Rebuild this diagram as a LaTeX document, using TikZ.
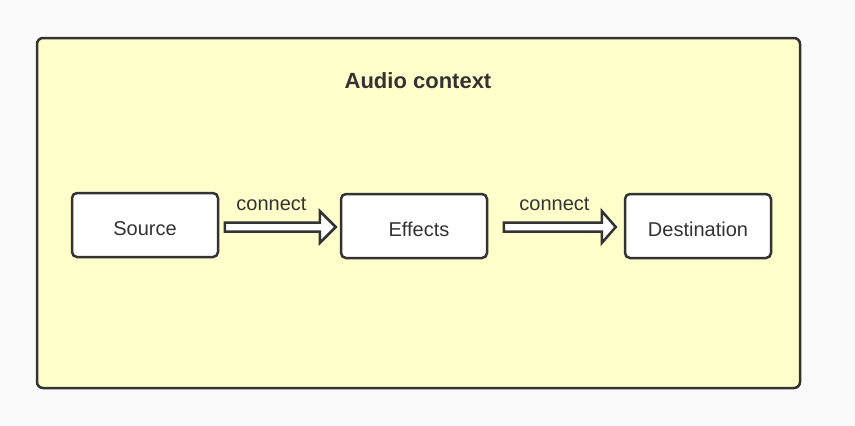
\documentclass[tikz,border=0pt]{standalone}
\usepackage{fontspec}
\setmainfont{Liberation Sans}
\usetikzlibrary{calc}
\definecolor{acink}{HTML}{333333}
\definecolor{acfill}{HTML}{FFFFCC}
\definecolor{acpage}{HTML}{FAFAFA}

\begin{document}
\begin{tikzpicture}[x=1pt, y=-1pt, text=acink,
    frame/.style={draw=acink, fill=acfill, line width=2.5pt, rounded corners=6pt},
    stage/.style={draw=acink, fill=white, line width=2.5pt, rounded corners=5pt,
      minimum width=146pt, minimum height=64pt, inner sep=0pt,
      text height=25pt, text depth=4pt, font=\fontsize{20}{22}\selectfont},
    hollow/.style={draw=acink, fill=white, line width=2.5pt, line join=miter},
    tag/.style={font=\fontsize{20}{22}\selectfont, anchor=base},
  ]
  % page and context frame
  \fill[acpage] (0,0) rectangle (855,426);
  \useasboundingbox (0,0) rectangle (855,426);
  \draw[frame] (37,38) rectangle (800,388);
  \node[font=\bfseries\fontsize{22}{24}\selectfont, anchor=base] (title) at (418,88) {Audio context};

  % the three stages
  \node[stage] (src) at (145,225) {Source};
  \node[stage] (eff) at (414,226) {\hspace*{10pt}Effects};
  \node[stage] (dst) at (698,226) {Destination};

  % hollow block arrows between the stages, level with the effects box
  \draw[hollow] ($(src.east |- eff.west)+(5.5,-3.5)$) -- ($(eff.west)+(-20,-3.5)$) -- ($(eff.west)+(-20,-15)$)
    -- ($(eff.west)+(-4,1)$) -- ($(eff.west)+(-20,17)$) -- ($(eff.west)+(-20,5.5)$)
    -- ($(src.east |- eff.west)+(5.5,5.5)$) -- cycle;
  \draw[hollow] ($(eff.east)+(15.5,-3.5)$) -- ($(dst.west)+(-22,-3.5)$) -- ($(dst.west)+(-22,-15)$)
    -- ($(dst.west)+(-8,1)$) -- ($(dst.west)+(-22,17)$) -- ($(dst.west)+(-22,5.5)$)
    -- ($(eff.east)+(15.5,5.5)$) -- cycle;
  \node[tag] (c1) at (271.5,210) {connect};
  \node[tag] (c2) at (554.5,210) {connect};
\end{tikzpicture}
\end{document}
